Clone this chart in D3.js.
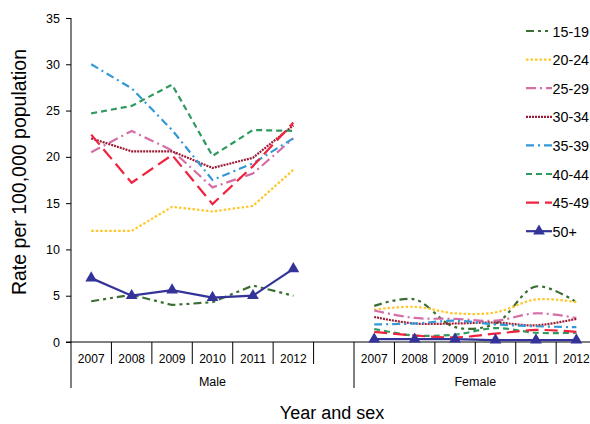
<!DOCTYPE html>
<html>
<head>
<meta charset="utf-8">
<script src="https://cdn.jsdelivr.net/npm/d3@7"></script>
<style>
  html, body { margin: 0; padding: 0; background: #fff; overflow: hidden; }
  svg { display: block; font-family: "Liberation Sans", Arial, sans-serif; }
</style>
</head>
<body>
<svg id="chart" width="590" height="424"></svg>
<script>
// ---- data ----
const years = ["2007", "2008", "2009", "2010", "2011", "2012"];
const groups = ["Male", "Female"];
const seriesNames = ["15-19", "20-24", "25-29", "30-34", "35-39", "40-44", "45-49", "50+"];
const yTicks = [0, 5, 10, 15, 20, 25, 30, 35];

const male_15_19 = [4.4, 5.1, 4.0, 4.3, 6.1, 5.0];
const male_20_24 = [12.0, 12.0, 14.6, 14.1, 14.7, 18.6];
const male_25_29 = [20.5, 22.8, 20.7, 16.7, 18.2, 22.0];
const male_30_34 = [22.0, 20.6, 20.6, 18.8, 19.9, 23.4];
const male_35_39 = [30.0, 27.4, 22.9, 17.5, 19.3, 22.0];
const male_40_44 = [24.7, 25.5, 27.8, 20.1, 22.9, 22.8];
const male_45_49 = [22.4, 17.2, 20.2, 14.9, 19.0, 23.7];
const male_50p   = [6.9, 5.0, 5.6, 4.8, 5.0, 7.9];

const female_15_19 = [3.9, 4.6, 1.6, 2.0, 6.0, 4.3];
const female_20_24 = [3.5, 3.8, 3.1, 3.2, 4.6, 4.3];
const female_25_29 = [3.4, 2.6, 2.5, 2.3, 3.1, 2.6];
const female_30_34 = [2.7, 2.0, 2.0, 2.1, 1.8, 2.5];
const female_35_39 = [1.9, 2.0, 2.3, 1.9, 1.7, 1.6];
const female_40_44 = [1.4, 0.7, 0.8, 1.5, 1.0, 1.0];
const female_45_49 = [1.1, 0.7, 0.5, 0.9, 1.3, 1.1];
const female_50p   = [0.3, 0.3, 0.3, 0.2, 0.2, 0.2];

const maleValues = [male_15_19, male_20_24, male_25_29, male_30_34, male_35_39, male_40_44, male_45_49, male_50p];
const femaleValues = [female_15_19, female_20_24, female_25_29, female_30_34, female_35_39, female_40_44, female_45_49, female_50p];

// ---- styles ----
const colors = ["#3b6e32", "#ffc72c", "#d66ea6", "#9c1c35", "#3399d6", "#2f9a60", "#f0233f", "#333399"];
const dashes = ["8,4,3,4,3,4", "2.5,2", "10,4,2,4", "2,1", "8,4,2,4", "6,4", "13,6", null];

// ---- layout ----
const svg = d3.select("#chart");
const plotLeft = 71, slotW = 40.43, plotTop = 18, plotBottom = 342;
const cats = years.map(v => "M" + v).concat(["gap"], years.map(v => "F" + v));
const x = d3.scaleBand().domain(cats).range([plotLeft, plotLeft + slotW * cats.length]).padding(0);
const y = d3.scaleLinear().domain([0, 35]).range([plotBottom, plotTop]);
const cx = k => x(k) + x.bandwidth() / 2;

// y axis
const yAxis = d3.axisLeft(y).tickValues(yTicks).tickSize(5).tickPadding(6);
const gy = svg.append("g").attr("transform", `translate(${plotLeft},0)`).call(yAxis);
gy.select(".domain").remove();
gy.selectAll(".tick line").attr("stroke", "#000");
gy.selectAll(".tick text").attr("font-size", 12.5).attr("fill", "#000").attr("font-family", "Liberation Sans, Arial, sans-serif");
svg.append("line").attr("x1", plotLeft).attr("x2", plotLeft).attr("y1", plotTop).attr("y2", 388).attr("stroke", "#000");

// x axis line
svg.append("line").attr("x1", plotLeft - 5).attr("x2", 590).attr("y1", plotBottom).attr("y2", plotBottom).attr("stroke", "#000");
// category separators
cats.forEach((c, i) => {
  if (i === 0) return;
  const xx = x(c);
  const isGroup = c === "F2007";
  svg.append("line").attr("x1", xx).attr("x2", xx).attr("y1", plotBottom).attr("y2", isGroup ? 388 : 364)
    .attr("stroke", "#000");
});
// year labels
cats.forEach(c => {
  if (c === "gap") return;
  svg.append("text").attr("x", cx(c)).attr("y", 362.5).attr("text-anchor", "middle")
    .attr("font-size", 12).attr("fill", "#000").text(c.slice(1));
});
// group labels
svg.append("text").attr("x", (x("M2007") + x("F2007")) / 2).attr("y", 386).attr("text-anchor", "middle")
  .attr("font-size", 12.5).text(groups[0]);
svg.append("text").attr("x", x("F2007") + slotW * 3).attr("y", 386).attr("text-anchor", "middle")
  .attr("font-size", 12.5).text(groups[1]);

// axis titles
svg.append("text").attr("x", 332).attr("y", 419).attr("text-anchor", "middle").attr("font-size", 18).text("Year and sex");
svg.append("text").attr("transform", "translate(25.5,172) rotate(-90)").attr("text-anchor", "middle")
  .attr("font-size", 19.5).text("Rate per 100,000 population");

// lines
const lineM = d3.line().x((d, i) => cx("M" + years[i])).y(d => y(d)).curve(d3.curveLinear);
const lineF = d3.line().x((d, i) => cx("F" + years[i])).y(d => y(d)).curve(d3.curveCatmullRom.alpha(0.5));

seriesNames.forEach((name, s) => {
  [[maleValues[s], lineM], [femaleValues[s], lineF]].forEach(([vals, gen]) => {
    svg.append("path").attr("d", gen(vals)).attr("fill", "none")
      .attr("stroke", colors[s]).attr("stroke-width", 2.2)
      .attr("stroke-dasharray", dashes[s]);
  });
});
// markers for 50+
const tri = d3.symbol().type(d3.symbolTriangle).size(60);
[["M", male_50p], ["F", female_50p]].forEach(([p, vals]) => {
  vals.forEach((v, i) => {
    svg.append("path").attr("d", tri())
      .attr("transform", `translate(${cx(p + years[i])},${y(v)})`)
      .attr("fill", colors[7]);
  });
});

// legend
seriesNames.forEach((name, s) => {
  const ly = 31 + s * 28.6;
  const g = svg.append("g");
  g.append("line").attr("x1", 526).attr("x2", 552).attr("y1", ly).attr("y2", ly)
    .attr("stroke", colors[s]).attr("stroke-width", 2.2).attr("stroke-dasharray", dashes[s]);
  if (s === 7) {
    g.append("path").attr("d", tri()).attr("transform", `translate(539,${ly})`).attr("fill", colors[7]);
  }
  g.append("text").attr("x", 552.5).attr("y", ly + 5.5).attr("font-size", 14.3).text(name);
});
</script>
</body>
</html>
